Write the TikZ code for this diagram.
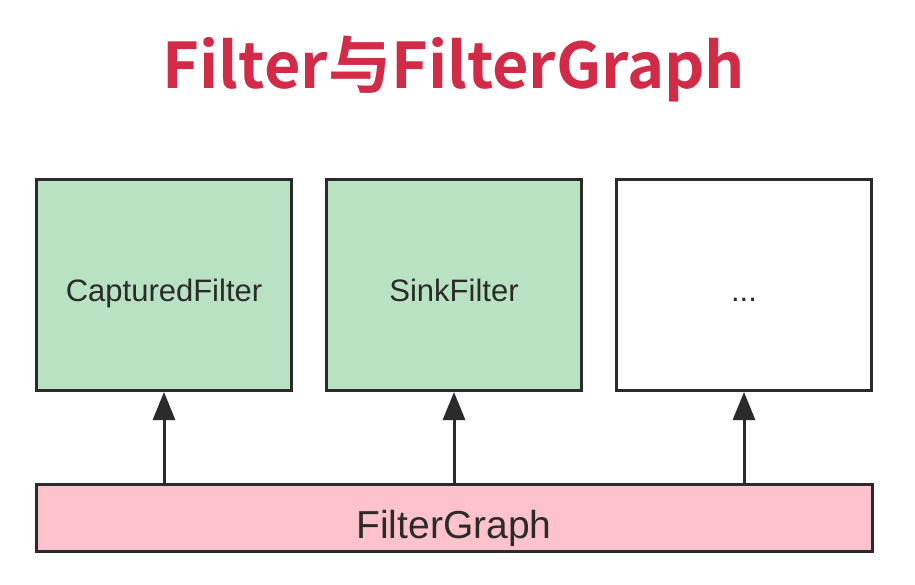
\documentclass[tikz,border=0pt]{standalone}
\usepackage{fontspec}
\setmainfont{Liberation Sans}
\newfontfamily\titlefont{Noto Sans CJK SC Bold}
\usetikzlibrary{arrows.meta,positioning}
\definecolor{edge}{HTML}{2B2B2B}
\definecolor{titlered}{HTML}{D22B47}
\definecolor{filtergreen}{HTML}{B8E2C1}
\definecolor{graphpink}{HTML}{FEC2CC}
\tikzset{
box/.style={draw=edge,line width=3pt,outer sep=1.5pt,inner sep=0pt,minimum width=255pt,minimum height=211pt,text=edge,font=\fontsize{31}{36}\selectfont,text height=32pt,text depth=0pt},
filter/.style={box,fill=filtergreen},
blank/.style={box,fill=white},
graphbox/.style={box,fill=graphpink,minimum width=836pt,minimum height=67pt,font=\fontsize{39}{44}\selectfont,text height=40pt},
up/.style={-{Triangle[length=28pt,width=22pt]},line width=3pt,draw=edge},
heading/.style={font=\titlefont\fontsize{63}{70}\selectfont,text=titlered}}

\begin{document}
\begin{tikzpicture}[x=1pt,y=-1pt,node distance=32pt]
\useasboundingbox (0,0) rectangle (915,584);
\node[heading,anchor=base] (title) at (454,88) {Filter与FilterGraph};
\node[filter] (captured) at (164,285) {CapturedFilter};
\node[filter,right=of captured] (sink) {SinkFilter};
\node[blank,right=of sink] (more) {...};
\node[graphbox,below=91pt of sink] (graph) {FilterGraph};
\draw[up] (graph.north -| captured.south)--(captured.south);
\draw[up] (graph.north -| sink.south)--(sink.south);
\draw[up] (graph.north -| more.south)--(more.south);
\end{tikzpicture}
\end{document}
